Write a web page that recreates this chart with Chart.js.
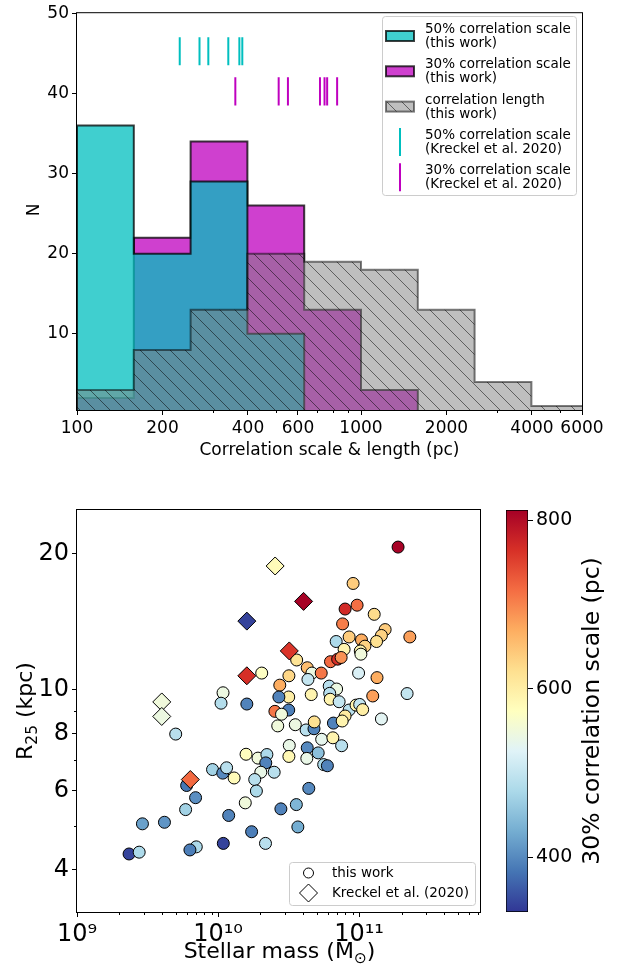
<!DOCTYPE html>
<html>
<head>
<meta charset="utf-8">
<script src="https://cdn.jsdelivr.net/npm/chart.js@4.4.1/dist/chart.umd.min.js"></script>
<style>
  body { margin: 0; background: #fff; width: 625px; height: 970px; position: relative; overflow: hidden; }
  canvas { position: absolute; }
  #hist { left: 0; top: 0; }
  #scat { left: 0; top: 470px; }
  #cbar { left: 490px; top: 470px; }
</style>
</head>
<body>
<canvas id="hist" width="625" height="470"></canvas>
<canvas id="scat" width="490" height="500"></canvas>
<canvas id="cbar" width="135" height="500"></canvas>
<script>
// ---- histogram: correlation scales / lengths (pc) ----
const binEdges = [100, 158.5, 251.2, 398.1, 631.0, 1000, 1585, 2512, 3981, 6310];
const count50 = [36, 20, 29, 10];
const count30 = [2, 22, 34, 26, 13, 3];
const countLength = [3, 8, 13, 20, 19, 18, 13, 4, 1];
const kreckel50 = [230, 270, 290, 341, 373, 382];
const kreckel30 = [361, 513, 553, 717, 744, 760, 824];
const histXTicks = [100, 200, 400, 600, 1000, 2000, 4000, 6000];
const histXMinor = [300, 500, 700, 800, 900, 3000, 5000];
const histYTicks = [10, 20, 30, 40, 50];

// ---- R25 vs stellar mass, coloured by 30% correlation scale ----
const massThis = [
  1.89e11, 9.07e10, 7.96e10, 9.68e10, 1.28e11, 7.64e10, 8.50e10, 1.04e11, 1.10e11, 1.53e11,
  1.44e11, 1.33e11, 2.29e11, 6.88e10, 7.83e10, 1.02e11, 1.03e11, 6.27e10, 7.05e10, 7.46e10,
  3.61e10, 4.29e10, 4.63e10, 5.39e10, 4.34e10, 9.92e10, 1.34e11, 2.04e10, 3.18e10, 2.74e10,
  6.14e10, 6.93e10, 6.19e10, 6.24e10, 7.22e10, 1.25e11, 2.19e11, 4.58e10, 3.17e10, 2.70e10,
  1.085e10, 1.05e10, 1.60e10, 2.53e10, 3.17e10, 2.82e10, 8.50e10, 9.52e10, 1.01e11, 1.06e11,
  7.96e10, 1.44e11, 2.65e10, 3.53e10, 4.21e10, 4.79e10, 4.81e10, 6.58e10, 7.59e10, 5.01e9,
  5.43e10, 6.52e10, 7.52e10, 3.20e10, 3.18e10, 4.29e10, 5.13e10, 4.26e10, 5.61e10, 5.96e10,
  1.58e10, 1.92e10, 2.22e10, 2.18e10, 2.01e10, 2.50e10, 9.14e9, 1.08e10, 1.15e10, 1.30e10,
  1.82e10, 5.99e9, 6.93e9, 1.87e10, 4.40e10, 5.89e9, 4.17e9, 2.91e9, 1.19e10, 1.56e10,
  2.79e10, 3.59e10, 3.68e10, 1.73e10, 1.09e10, 2.17e10, 7.01e9, 6.32e9, 2.34e9, 2.76e9
];
const r25This = [
  20.7, 17.2, 15.1, 15.4, 14.7, 14.0, 13.1, 12.9, 12.5, 13.6,
  13.2, 12.8, 13.1, 12.8, 12.3, 12.2, 12.0, 11.55, 11.7, 11.8,
  11.65, 11.2, 10.9, 10.9, 10.55, 10.9, 10.65, 10.9, 10.75, 10.25,
  10.2, 10.05, 9.83, 9.54, 9.42, 9.70, 9.82, 9.77, 9.65, 9.65,
  9.86, 9.35, 9.31, 8.97, 9.03, 8.84, 9.03, 9.26, 9.29, 9.05,
  8.76, 8.63, 8.33, 8.38, 8.16, 8.21, 8.50, 8.45, 8.54, 7.99,
  7.78, 7.84, 7.53, 7.54, 7.13, 7.45, 7.26, 7.06, 6.84, 6.80,
  7.21, 7.07, 7.20, 6.90, 6.58, 6.58, 6.67, 6.55, 6.73, 6.39,
  6.34, 6.15, 5.78, 5.98, 6.06, 5.44, 5.10, 5.06, 5.28, 5.63,
  5.46, 5.58, 4.98, 4.86, 4.58, 4.58, 4.50, 4.43, 4.34, 4.38
];
const scaleThis = [
  810, 640, 770, 715, 625, 705, 640, 670, 635, 640,
  635, 620, 680, 480, 590, 590, 550, 720, 765, 690,
  615, 655, 545, 710, 500, 520, 670, 570, 630, 670,
  490, 545, 490, 590, 500, 680, 500, 590, 600, 395,
  545, 485, 395, 710, 390, 550, 490, 590, 500, 600,
  605, 530, 550, 545, 490, 395, 620, 395, 590, 490,
  535, 590, 490, 540, 585, 400, 450, 540, 480, 395,
  575, 550, 480, 395, 540, 490, 470, 400, 490, 580,
  490, 385, 405, 480, 400, 470, 410, 420, 395, 550,
  395, 440, 430, 390, 345, 490, 480, 390, 345, 480
];
const massKreckel = [2.54e10, 4.04e10, 1.60e10, 3.20e10, 1.60e10, 3.99e9, 3.99e9, 6.36e9];
const r25Kreckel = [18.8, 15.7, 14.2, 12.2, 10.75, 9.41, 8.74, 6.34];
const scaleKreckel = [580, 810, 345, 760, 765, 550, 545, 720];
const massTicks = [1e9, 1e10, 1e11];
const massTickLabels = ['10⁹', '10¹⁰', '10¹¹'];
const massMinor = [2e9, 3e9, 4e9, 5e9, 6e9, 7e9, 8e9, 9e9, 2e10, 3e10, 4e10, 5e10, 6e10, 7e10, 8e10, 9e10, 2e11, 3e11, 4e11, 5e11, 6e11, 7e11];
const r25Ticks = [4, 6, 8, 10, 20];
const r25Minor = [5, 7, 9];
const cbarTicks = [400, 600, 800];
const cbarMin = 335, cbarMax = 812;

Chart.defaults.font.family = '"DejaVu Sans"';
Chart.defaults.color = '#000';

// RdYlBu reversed
const rdylbuR = [[49,54,149],[69,117,180],[116,173,209],[171,217,233],[224,243,248],[255,255,191],
                 [254,224,144],[253,174,97],[244,109,67],[215,48,39],[165,0,38]];
function cmap(v) {
  const f = Math.min(1, Math.max(0, (v - cbarMin) / (cbarMax - cbarMin))) * 10;
  const i = Math.min(9, Math.floor(f)), t = f - i;
  const a = rdylbuR[i], b = rdylbuR[i + 1];
  return 'rgb(' + a.map((c, k) => Math.round(c + (b[k] - c) * t)).join(',') + ')';
}

function hatchPattern() {
  const s = 15, c = document.createElement('canvas');
  c.width = c.height = s;
  const g = c.getContext('2d');
  g.fillStyle = 'rgba(128,128,128,0.5)';
  g.fillRect(0, 0, s, s);
  g.strokeStyle = 'rgba(0,0,0,0.5)';
  g.lineWidth = 1;
  g.beginPath();
  [-s, 0, s].forEach(o => { g.moveTo(o - 1, -1); g.lineTo(o + s + 1, s + 1); });
  g.stroke();
  return document.getElementById('hist').getContext('2d').createPattern(c, 'repeat');
}
const hatch = hatchPattern();

// outline of a step histogram; 'before' runs flat first, then up/down
function stepData(counts) {
  const pts = [{ x: binEdges[0], y: 0 }];
  counts.forEach((c, i) => pts.push({ x: binEdges[i], y: c }));
  pts.push({ x: binEdges[counts.length], y: 0 });
  return pts;
}
function vlines(xs, y0, y1) {
  const pts = [];
  xs.forEach(x => pts.push({ x: x, y: y0 }, { x: x, y: y1 }, { x: x, y: null }));
  return pts;
}

const framePlugin = {
  id: 'frame',
  afterDatasetsDraw(chart, args, opts) {
    if (opts.display === false) return;
    const { ctx, chartArea: a } = chart;
    ctx.save();
    ctx.strokeStyle = '#000';
    ctx.lineWidth = 1;
    ctx.strokeRect(a.left - 0.5, a.top - 0.5, a.right - a.left + 1, a.bottom - a.top + 1);
    ctx.restore();
  }
};

const minorTicksPlugin = {
  id: 'minorTicks',
  afterDraw(chart, args, opts) {
    const { ctx, chartArea: a } = chart;
    ctx.save();
    ctx.strokeStyle = '#000';
    ctx.lineWidth = 1;
    ctx.beginPath();
    (opts.x || []).forEach(v => {
      const p = Math.round(chart.scales.x.getPixelForValue(v)) + 0.5;
      ctx.moveTo(p, a.bottom); ctx.lineTo(p, a.bottom + 3);
    });
    (opts.y || []).forEach(v => {
      const p = Math.round(chart.scales.y.getPixelForValue(v)) + 0.5;
      ctx.moveTo(a.left, p); ctx.lineTo(a.left - 3, p);
    });
    ctx.stroke();
    ctx.restore();
  }
};

// axis titles with sub-scripts
const titlesPlugin = {
  id: 'titles',
  afterDraw(chart, args, opts) {
    const ctx = chart.ctx;
    (opts.items || []).forEach(item => {
      ctx.save();
      ctx.translate(item.x, item.y);
      ctx.rotate(item.rot || 0);
      ctx.fillStyle = '#000';
      ctx.textBaseline = 'middle';
      const parts = item.parts.map(p => Object.assign({ size: p.sub ? item.size * 0.7 : item.size }, p));
      let w = 0;
      parts.forEach(p => { ctx.font = p.size + 'px "DejaVu Sans"'; p.w = ctx.measureText(p.t).width; w += p.w; });
      let x = -w / 2;
      parts.forEach(p => {
        ctx.font = p.size + 'px "DejaVu Sans"';
        ctx.fillText(p.t, x, p.sub ? item.size * 0.3 : 0);
        x += p.w;
      });
      ctx.restore();
    });
  }
};

function legendFrame(ctx, x, y, w, h) {
  ctx.beginPath();
  ctx.roundRect(x + 0.5, y + 0.5, w, h, 3);
  ctx.fillStyle = 'rgba(255,255,255,0.8)';
  ctx.fill();
  ctx.strokeStyle = '#cccccc';
  ctx.lineWidth = 1;
  ctx.stroke();
}

const histLegendPlugin = {
  id: 'histLegend',
  afterDraw(chart, args, opts) {
    const ctx = chart.ctx;
    ctx.save();
    legendFrame(ctx, 382, 16, 194, 179);
    ctx.font = opts.size + 'px "DejaVu Sans"';
    ctx.textBaseline = 'middle';
    opts.entries.forEach((e, i) => {
      const cy = 36 + i * 35.3;
      if (e.kind === 'patch') {
        ctx.fillStyle = e.fill;
        ctx.fillRect(386, cy - 5, 28, 10);
        ctx.strokeStyle = e.edge;
        ctx.lineWidth = 2;
        ctx.strokeRect(386, cy - 5, 28, 10);
      } else {
        ctx.strokeStyle = e.color;
        ctx.lineWidth = 2;
        ctx.beginPath();
        ctx.moveTo(400, cy - 14); ctx.lineTo(400, cy + 14);
        ctx.stroke();
      }
      ctx.fillStyle = '#000';
      ctx.fillText(e.lines[0], 425, cy - 6.5);
      ctx.fillText(e.lines[1], 425, cy + 7.5);
    });
    ctx.restore();
  }
};

const scatLegendPlugin = {
  id: 'scatLegend',
  afterDraw(chart, args, opts) {
    const ctx = chart.ctx;
    ctx.save();
    legendFrame(ctx, 289, 392, 186, 43);
    ctx.strokeStyle = '#000';
    ctx.fillStyle = '#fff';
    ctx.lineWidth = 1;
    ctx.beginPath();
    ctx.arc(308.5, 403, 5, 0, 2 * Math.PI);
    ctx.fill(); ctx.stroke();
    ctx.beginPath();
    ctx.moveTo(308.5, 414); ctx.lineTo(317.5, 423); ctx.lineTo(308.5, 432); ctx.lineTo(299.5, 423);
    ctx.closePath();
    ctx.fill(); ctx.stroke();
    ctx.fillStyle = '#000';
    ctx.font = opts.size + 'px "DejaVu Sans"';
    ctx.textBaseline = 'middle';
    ctx.fillText('this work', 332, 403);
    ctx.fillText('Kreckel et al. (2020)', 332, 423);
    ctx.restore();
  }
};

const histBase = { type: 'line', fill: 'origin', stepped: 'before', pointRadius: 0, borderWidth: 2, borderJoinStyle: 'miter' };

new Chart(document.getElementById('hist'), {
  data: {
    datasets: [
      Object.assign({}, histBase, { label: '50% correlation scale', data: stepData(count50),
        backgroundColor: 'rgba(0,191,191,0.75)', borderColor: 'rgba(0,0,0,0.75)', order: 2 }),
      Object.assign({}, histBase, { label: '30% correlation scale', data: stepData(count30),
        backgroundColor: 'rgba(191,0,191,0.75)', borderColor: 'rgba(0,0,0,0.75)', order: 3 }),
      Object.assign({}, histBase, { label: 'correlation length', data: stepData(countLength),
        backgroundColor: hatch, borderColor: 'rgba(0,0,0,0.5)', order: 1 }),
      { type: 'line', label: '50% Kreckel', data: vlines(kreckel50, 43.5, 47), borderColor: 'rgb(0,191,191)',
        borderWidth: 2, pointRadius: 0, fill: false, spanGaps: false, order: 0 },
      { type: 'line', label: '30% Kreckel', data: vlines(kreckel30, 38.5, 42), borderColor: 'rgb(191,0,191)',
        borderWidth: 2, pointRadius: 0, fill: false, spanGaps: false, order: 0 }
    ]
  },
  options: {
    responsive: false,
    animation: false,
    devicePixelRatio: 1,
    layout: { padding: { left: 0, top: 9, right: 43, bottom: 0 } },
    plugins: {
      legend: { display: false },
      tooltip: { enabled: false },
      minorTicks: { x: histXMinor },
      titles: { items: [
        { parts: [{ t: 'Correlation scale & length (pc)' }], x: 329.5, y: 451, size: 17 },
        { parts: [{ t: 'N' }], x: 35, y: 210, rot: -Math.PI / 2, size: 17 }
      ] },
      histLegend: { size: 13.5, entries: [
        { kind: 'patch', fill: 'rgba(0,191,191,0.75)', edge: 'rgba(0,0,0,0.75)', lines: ['50% correlation scale', '(this work)'] },
        { kind: 'patch', fill: 'rgba(191,0,191,0.75)', edge: 'rgba(0,0,0,0.75)', lines: ['30% correlation scale', '(this work)'] },
        { kind: 'patch', fill: hatch, edge: 'rgba(0,0,0,0.5)', lines: ['correlation length', '(this work)'] },
        { kind: 'line', color: 'rgb(0,191,191)', lines: ['50% correlation scale', '(Kreckel et al. 2020)'] },
        { kind: 'line', color: 'rgb(191,0,191)', lines: ['30% correlation scale', '(Kreckel et al. 2020)'] }
      ] }
    },
    scales: {
      x: {
        type: 'logarithmic', min: 100, max: 6000,
        afterBuildTicks: s => { s.ticks = histXTicks.map(v => ({ value: v })); },
        afterFit: s => { s.height = 60; },
        ticks: { autoSkip: false, maxRotation: 0, padding: 3, font: { size: 17 }, callback: v => String(v) },
        grid: { drawOnChartArea: false, tickLength: 5, tickColor: '#000' },
        border: { display: false }
      },
      y: {
        type: 'linear', min: 0.5, max: 50,
        afterBuildTicks: s => { s.ticks = histYTicks.map(v => ({ value: v })); },
        afterFit: s => { s.width = 77; },
        ticks: { padding: 3, font: { size: 17 }, callback: v => String(v) },
        grid: { drawOnChartArea: false, tickLength: 5, tickColor: '#000' },
        border: { display: false }
      }
    }
  },
  plugins: [framePlugin, minorTicksPlugin, titlesPlugin, histLegendPlugin]
});

new Chart(document.getElementById('scat'), {
  type: 'scatter',
  data: {
    datasets: [
      { label: 'Kreckel et al. (2020)', data: massKreckel.map((m, i) => ({ x: m, y: r25Kreckel[i] })),
        pointStyle: 'rectRot', pointRadius: 9, borderWidth: 1, borderColor: '#000',
        backgroundColor: scaleKreckel.map(cmap), order: 0 },
      { label: 'this work', data: massThis.map((m, i) => ({ x: m, y: r25This[i] })),
        pointStyle: 'circle', pointRadius: 6, borderWidth: 1, borderColor: '#000',
        backgroundColor: scaleThis.map(cmap), order: 1 }
    ]
  },
  options: {
    responsive: false,
    animation: false,
    devicePixelRatio: 1,
    layout: { padding: { left: 0, top: 40, right: 8, bottom: 0 } },
    plugins: {
      legend: { display: false },
      tooltip: { enabled: false },
      minorTicks: { x: massMinor, y: r25Minor },
      titles: { items: [
        { parts: [{ t: 'Stellar mass (M' }, { t: '⊙', sub: true }, { t: ')' }], x: 279.5, y: 482, size: 22 },
        { parts: [{ t: 'R' }, { t: '25', sub: true }, { t: ' (kpc)' }], x: 26, y: 241, rot: -Math.PI / 2, size: 22 }
      ] },
      scatLegend: { size: 13.5 }
    },
    scales: {
      x: {
        type: 'logarithmic', min: 1e9, max: 7.2e11,
        afterBuildTicks: s => { s.ticks = massTicks.map(v => ({ value: v })); },
        afterFit: s => { s.height = 58; },
        ticks: { autoSkip: false, maxRotation: 0, padding: 3, font: { size: 24 },
          callback: (v, i) => massTickLabels[i] },
        grid: { drawOnChartArea: false, tickLength: 5, tickColor: '#000' },
        border: { display: false }
      },
      y: {
        type: 'logarithmic', min: 3.23, max: 25,
        afterBuildTicks: s => { s.ticks = r25Ticks.map(v => ({ value: v })); },
        afterFit: s => { s.width = 77; },
        ticks: { padding: 3, font: { size: 24 }, callback: v => String(v) },
        grid: { drawOnChartArea: false, tickLength: 5, tickColor: '#000' },
        border: { display: false }
      }
    }
  },
  plugins: [framePlugin, minorTicksPlugin, titlesPlugin, scatLegendPlugin]
});

new Chart(document.getElementById('cbar'), {
  type: 'bar',
  data: {
    labels: [''],
    datasets: [{
      data: [[cbarMin, cbarMax]],
      backgroundColor: c => {
        const a = c.chart.chartArea;
        if (!a) return '#fff';
        const g = c.chart.ctx.createLinearGradient(0, a.bottom, 0, a.top);
        rdylbuR.forEach((rgb, i) => g.addColorStop(i / 10, 'rgb(' + rgb.join(',') + ')'));
        return g;
      },
      borderColor: '#000', borderWidth: 1, borderSkipped: false,
      barPercentage: 1, categoryPercentage: 1
    }]
  },
  options: {
    responsive: false,
    animation: false,
    devicePixelRatio: 1,
    layout: { padding: { left: 16, top: 40, right: 0, bottom: 58 } },
    plugins: {
      legend: { display: false },
      tooltip: { enabled: false },
      titles: { items: [
        { parts: [{ t: '30% correlation scale (pc)' }], x: 103, y: 241, rot: -Math.PI / 2, size: 23.5 }
      ] }
    },
    scales: {
      x: { display: false },
      y: {
        position: 'right', min: cbarMin, max: cbarMax,
        afterBuildTicks: s => { s.ticks = cbarTicks.map(v => ({ value: v })); },
        afterFit: s => { s.width = 97; },
        ticks: { padding: 3, font: { size: 19 }, callback: v => String(v) },
        grid: { drawOnChartArea: false, tickLength: 5, tickColor: '#000' },
        border: { display: false }
      }
    }
  },
  plugins: [titlesPlugin]
});
</script>
</body>
</html>
